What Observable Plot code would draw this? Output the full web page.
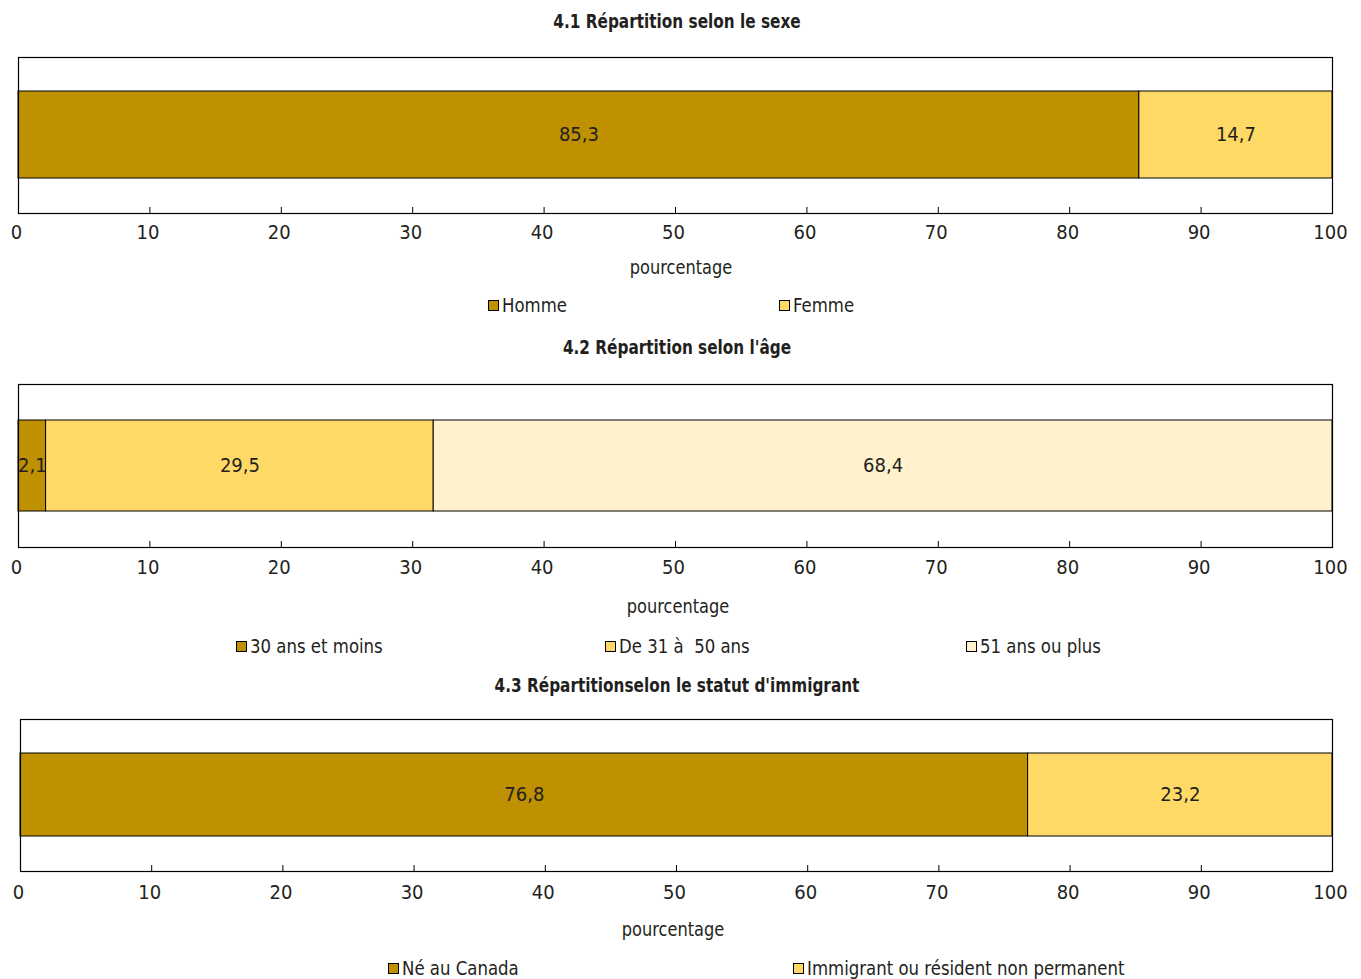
<!DOCTYPE html>
<html>
<head>
<meta charset="utf-8">
<script src="https://cdn.jsdelivr.net/npm/d3@7"></script>
<script src="https://cdn.jsdelivr.net/npm/@observablehq/plot@0.6"></script>
<style>
  body { margin: 0; background: #fff; }
  #root { position: relative; width: 1361px; height: 979px; overflow: hidden;
          font-family: "Liberation Sans Narrow", "DejaVu Sans Condensed", "Roboto Condensed", sans-serif; color: #231f20; }
  .abs { position: absolute; line-height: 1; white-space: pre; }
  .title { font-weight: bold; font-size: 20px; transform: translate(-50%, -50%) scaleX(0.85); }
  .lab { font-size: 20px; transform: translate(-50%, -50%) scaleX(0.9); }
  .leg { display: flex; align-items: center; transform: translateY(-50%); font-size: 20px; }
  .leg span { display: inline-block; transform: scaleX(0.92); transform-origin: left center; }
  .sw { width: 9px; height: 9px; border: 1px solid #000; margin-right: 3px; }
  svg { position: absolute; left: 0; }
</style>
</head>
<body>
<div id="root"></div>
<script>
// ---- Data ----
const titles = [
  "4.1 Répartition selon le sexe",
  "4.2 Répartition selon l'âge",
  "4.3 Répartitionselon le statut d'immigrant"
];
const sexCategories = ["Homme", "Femme"];
const sexValues = [85.3, 14.7];
const ageCategories = ["30 ans et moins", "De 31 à  50 ans", "51 ans ou plus"];
const ageValues = [2.1, 29.5, 68.4];
const immCategories = ["Né au Canada", "Immigrant ou résident non permanent"];
const immValues = [76.8, 23.2];
const tickValues = [0, 10, 20, 30, 40, 50, 60, 70, 80, 90, 100];
const axisLabel = "pourcentage";
const palette = ["#bf9000", "#ffd966", "#fff2cc"];

// ---- Layout ----
const panels = [
  { cats: sexCategories, vals: sexValues, titleY: 21, frameTop: 57, frameBottom: 213, barTop: 91, barBottom: 179,
    left: 18, right: 1332, tickY: 232, labelX: 681, labelY: 267, legendY: 305, legendX: [488, 779] },
  { cats: ageCategories, vals: ageValues, titleY: 347, frameTop: 384, frameBottom: 547, barTop: 420, barBottom: 511,
    left: 18, right: 1332, tickY: 567, labelX: 678, labelY: 606, legendY: 646, legendX: [236, 605, 966] },
  { cats: immCategories, vals: immValues, titleY: 685, frameTop: 719, frameBottom: 871, barTop: 753, barBottom: 837,
    left: 20, right: 1332, tickY: 892, labelX: 673, labelY: 929, legendY: 968, legendX: [388, 793] }
];
const W = 1361;
const root = document.getElementById("root");
const fmt = v => v.toFixed(1).replace(".", ",");

function addDiv(cls, text, x, y) {
  const d = document.createElement("div");
  d.className = "abs " + cls;
  d.textContent = text;
  d.style.left = x + "px";
  d.style.top = y + "px";
  root.appendChild(d);
  return d;
}

panels.forEach((p, i) => {
  addDiv("title", titles[i], 677, p.titleY);
  const data = p.cats.map((c, j) => ({ group: "g", cat: c, value: p.vals[j] }));
  const fh = p.frameBottom - p.frameTop;
  const f = (p.barBottom - p.barTop) / fh;
  const pad = (1 - f) / (1 + f);
  const mTop = 1, mBottom = 40;
  const chart = Plot.plot({
    width: W,
    height: fh + mTop + mBottom,
    marginLeft: p.left,
    marginRight: W - p.right,
    marginTop: mTop,
    marginBottom: mBottom,
    style: { fontFamily: "\"Liberation Sans Narrow\", \"DejaVu Sans Condensed\", sans-serif", fontSize: "20px", color: "#231f20", background: "transparent" },
    x: { domain: [0, 100] },
    y: { domain: ["g"], padding: pad, axis: null },
    color: { domain: p.cats, range: palette.slice(0, p.cats.length) },
    marks: [
      Plot.barX(data, Plot.stackX({ x: "value", y: "group", fill: "cat", stroke: "#000", strokeWidth: 1 })),
      Plot.text(data, Plot.stackX({ x: "value", y: "group", text: d => fmt(d.value), fill: "#231f20", fontSize: 20 })),
      Plot.ruleX(tickValues.slice(1, -1), { x: d => d, stroke: "#000", insetTop: fh - 6 }),
      Plot.frame({ stroke: "#000", strokeWidth: 1.2 }),
      Plot.axisX(tickValues, { tickSize: 0, tickPadding: p.tickY - p.frameBottom - 8, tickFormat: d => String(d), fontSize: 20, label: null, dx: -2 })
    ]
  });
  chart.style.top = (p.frameTop - mTop) + "px";
  root.appendChild(chart);
  addDiv("lab", axisLabel, p.labelX, p.labelY);
  p.cats.forEach((c, j) => {
    const d = document.createElement("div");
    d.className = "abs leg";
    d.style.left = p.legendX[j] + "px";
    d.style.top = p.legendY + "px";
    const sw = document.createElement("div");
    sw.className = "sw";
    sw.style.background = palette[j];
    const t = document.createElement("span");
    t.textContent = c;
    d.appendChild(sw); d.appendChild(t);
    root.appendChild(d);
  });
});
</script>
</body>
</html>
